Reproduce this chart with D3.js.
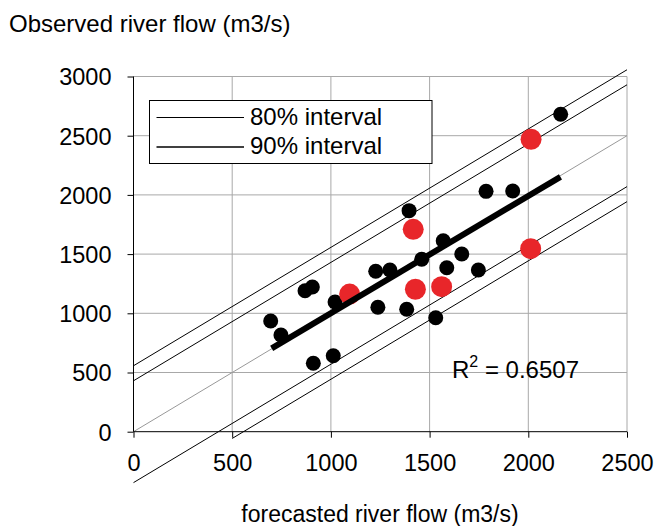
<!DOCTYPE html>
<html>
<head>
<meta charset="utf-8">
<script src="https://cdn.jsdelivr.net/npm/d3@7"></script>
<style>
  body { margin: 0; background: #fff; }
  svg { display: block; }
  text { font-family: "Liberation Sans", Arial, Helvetica, sans-serif; fill: #000; }
</style>
</head>
<body>
<div id="content"></div>
<script>
// observed vs forecasted flow
const blackX = [695, 747, 869, 906, 911, 1012, 1021, 1227, 1238, 1299, 1384, 1531, 1396, 1460, 1569, 1587, 1663, 1747, 1786, 1921, 2164];
const blackY = [935, 817, 1191, 1222, 578, 642, 1095, 1355, 1051, 1366, 1034, 963, 1867, 1456, 1613, 1385, 1501, 1366, 2030, 2033, 2681];
const redX = [1095, 1417, 1428, 1561, 2014, 2012];
const redY = [1162, 1709, 1203, 1225, 2470, 1546];

const xTicks = [0, 500, 1000, 1500, 2000, 2500];
const yTicks = [0, 500, 1000, 1500, 2000, 2500, 3000];

// trendline
const trendSlope = 0.99;
const trendIntercept = 11;
const trendRange = [700, 2163];

// interval half widths and where each lower line starts
const intervalNames = ['80% interval', '90% interval'];
const intervalWidth = [430, 557];
const lowerStart = [0, 500];
const r2Label = '0.6507';

const svg = d3.select('#content').append('svg')
    .attr('width', 655)
    .attr('height', 526);

const x = d3.scaleLinear().domain([0, 2500]).range([133.5, 627]);
const y = d3.scaleLinear().domain([0, 3000]).range([431.7, 76.5]);

// gridlines
svg.append('g').selectAll('line')
    .data(xTicks.slice(1))
    .join('line')
    .attr('x1', d => x(d)).attr('x2', d => x(d))
    .attr('y1', y(0)).attr('y2', y(3000))
    .attr('stroke', '#a8a8a8').attr('stroke-width', 1);
svg.append('g').selectAll('line')
    .data(yTicks.slice(1))
    .join('line')
    .attr('x1', x(0)).attr('x2', x(2500))
    .attr('y1', d => y(d)).attr('y2', d => y(d))
    .attr('stroke', '#a8a8a8').attr('stroke-width', 1);

let line = d3.line().x(d => x(d[0])).y(d => y(d[1]));

// 1:1 line
svg.append('path')
    .attr('d', line([[0, 0], [2500, 2500]]))
    .attr('stroke', '#999').attr('stroke-width', 1).attr('fill', 'none');

// interval lines
intervalWidth.forEach(function(w, i) {
    svg.append('path')
        .attr('d', line([[0, w], [2500, 2500 + w]]))
        .attr('stroke', '#000').attr('stroke-width', 1).attr('fill', 'none');
    svg.append('path')
        .attr('d', line([[lowerStart[i], lowerStart[i] - w], [2500, 2500 - w]]))
        .attr('stroke', '#000').attr('stroke-width', 1).attr('fill', 'none');
});

// axes
let xAxis = svg.append('g')
    .attr('transform', 'translate(0,' + y(0) + ')')
    .call(d3.axisBottom(x).tickValues(xTicks).tickFormat(d3.format('d')).tickSize(6).tickPadding(17));
let yAxis = svg.append('g')
    .attr('transform', 'translate(' + x(0) + ',0)')
    .call(d3.axisLeft(y).tickValues(yTicks).tickFormat(d3.format('d')).tickSize(6).tickPadding(16));
[xAxis, yAxis].forEach(function(a) {
    a.selectAll('line').attr('stroke', '#000');
    a.selectAll('text').attr('font-size', '23.5px').attr('font-family', '"Liberation Sans", Arial, sans-serif').attr('fill', '#000');
});
xAxis.select('.domain').attr('stroke', '#000').attr('d', 'M' + x(0) + ',0H' + x(2500));
yAxis.select('.domain').attr('stroke', '#000').attr('d', 'M0,' + y(0) + 'V' + y(3000));
xAxis.selectAll('text').attr('dy', '0.71em');
yAxis.selectAll('text').attr('dy', '0.36em');

// points
svg.append('g').selectAll('circle')
    .data(blackX.map((v, i) => [v, blackY[i]]))
    .join('circle')
    .attr('cx', d => x(d[0])).attr('cy', d => y(d[1]))
    .attr('r', 7.5).attr('fill', '#000');
svg.append('g').selectAll('circle')
    .data(redX.map((v, i) => [v, redY[i]]))
    .join('circle')
    .attr('cx', d => x(d[0])).attr('cy', d => y(d[1]))
    .attr('r', 10.5).attr('fill', '#e8262a');

// trendline
svg.append('path')
    .attr('d', line(trendRange.map(v => [v, trendSlope * v + trendIntercept])))
    .attr('stroke', '#000').attr('stroke-width', 6).attr('fill', 'none');

// legend
let legend = svg.append('g');
legend.append('rect')
    .attr('x', 149.5).attr('y', 100.5).attr('width', 282.5).attr('height', 63)
    .attr('fill', '#fff').attr('stroke', '#000').attr('stroke-width', 1);
intervalNames.forEach(function(name, i) {
    let ly = 117.5 + i * 29.5;
    legend.append('line')
        .attr('x1', 156.5).attr('x2', 244).attr('y1', ly).attr('y2', ly)
        .attr('stroke', '#000').attr('stroke-width', i == 0 ? 1 : 1.4);
    legend.append('text')
        .attr('x', 250).attr('y', ly + 7)
        .attr('font-size', '24px')
        .text(name);
});

// R squared
let r2 = svg.append('text')
    .attr('x', 452).attr('y', 377.7)
    .attr('font-size', '24px');
r2.append('tspan').text('R');
r2.append('tspan').attr('font-size', '16px').attr('dy', -11).text('2');
r2.append('tspan').attr('dy', 11).text(' = ' + r2Label);

// axis titles
svg.append('text')
    .attr('x', 9).attr('y', 31.7)
    .attr('font-size', '24px')
    .text('Observed river flow (m3/s)');
svg.append('text')
    .attr('x', 380).attr('y', 522)
    .attr('text-anchor', 'middle')
    .attr('font-size', '23px')
    .text('forecasted river flow (m3/s)');
</script>
</body>
</html>
